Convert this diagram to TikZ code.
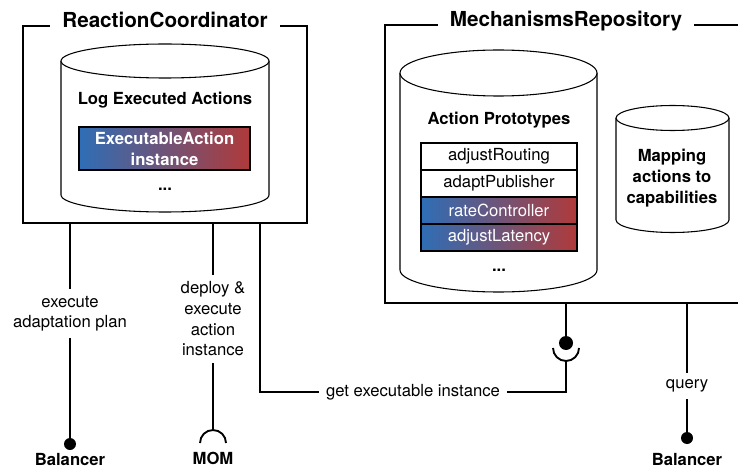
\documentclass[tikz,border=0pt]{standalone}
\usepackage{fontspec}
\setmainfont{TeX Gyre Heros}
\usetikzlibrary{positioning}
\newdimen\pxu \pxu=0.75pt
\definecolor{actblue}{RGB}{46,110,182}
\definecolor{actred}{RGB}{176,58,58}

\begin{document}
\begin{tikzpicture}[
  x=0.75pt, y=-0.75pt,
  font=\fontsize{12.5}{15.5}\selectfont,
  comp/.style={draw, line width=1.4pt, inner sep=0pt},
  comptitle/.style={anchor=base, fill=white, inner xsep=9pt, inner ysep=2pt, font=\fontsize{15.5}{18}\selectfont\bfseries},
  cyl/.style={line width=0.8pt, fill=white},
  store/.style={font=\fontsize{12.5}{15.7}\selectfont\bfseries, align=center},
  proto/.style={draw, line width=0.8pt, minimum width=156\pxu, minimum height=27\pxu, inner sep=0pt},
  hot/.style={left color=actblue, right color=actred, text=white},
  wire/.style={line width=1.4pt},
  lbl/.style={fill=white, align=center, inner sep=5pt},
  ball/.style={circle, fill=black, inner sep=0pt, minimum size=12\pxu},
  ext/.style={anchor=base, inner sep=0pt, font=\fontsize{12.5}{15.5}\selectfont\bfseries}
]
  \useasboundingbox (0,0) rectangle (738,470);

  % Components
  \node[comp, minimum width=284\pxu, minimum height=197\pxu] (coord) at (165,124.5) {};
  \node[comp, minimum width=362\pxu, minimum height=278\pxu] (repo) at (566,164) {};
  \node[comptitle] (coordtitle) at ([yshift=-1.5pt]coord.north) {ReactionCoordinator};
  \node[comptitle] (repotitle) at ([yshift=-1.5pt]repo.north) {MechanismsRepository};

  % Log of executed actions
  \draw[cyl] (61,61) -- (61,195) arc[start angle=180, end angle=0, x radius=104, y radius=17] -- (269,61);
  \draw[cyl] (165,61) ellipse [x radius=104, y radius=17];
  \node[store] (logtitle) at (165,100) {Log Executed Actions};
  \node[draw, line width=0.8pt, hot, store, text=white, minimum width=171\pxu, minimum height=43\pxu, inner sep=0pt] (execinst) at (164.5,148.5) {ExecutableAction\\instance};
  \node[store] (logdots) at (165,189) {...};

  % Action prototypes
  \draw[cyl] (400,73) -- (400,270) arc[start angle=180, end angle=0, x radius=98.5, y radius=22] -- (597,73);
  \draw[cyl] (498.5,73) ellipse [x radius=98.5, y radius=23];
  \node[store] (protostitle) at (499,120) {Action Prototypes};
  \node[proto] (routing) at (499,156.5) {adjustRouting};
  \node[proto] (publisher) at (499,183.5) {adaptPublisher};
  \node[proto, hot] (rate) at (499,210.5) {rateController};
  \node[proto, hot] (latency) at (499,237.5) {adjustLatency};
  \node[store] (protodots) at (499,270) {...};

  % Mapping actions to capabilities
  \draw[cyl] (616,118) -- (616,220) arc[start angle=180, end angle=0, x radius=56.5, y radius=12.5] -- (729,118);
  \draw[cyl] (672.5,118) ellipse [x radius=56.5, y radius=12.5];
  \node[store] (mapping) at (672,178) {Mapping\\actions to\\capabilities};

  % External ends
  \node[ball] (bal1) at (70,444) {};
  \node[ext] (bal1txt) at (70,465) {Balancer};
  \node[ball] (bal2) at (687,438) {};
  \node[ext] (bal2txt) at (687,465) {Balancer};
  \coordinate (mom) at (213,430);
  \draw[wire] (200,443) arc[start angle=180, end angle=360, radius=13];
  \node[ext] (momtxt) at (213,464) {MOM};
  \node[ball, minimum size=14\pxu] (use) at (566,343) {};
  \coordinate (cup) at (566,361);
  \draw[wire] (553,348) arc[start angle=180, end angle=0, radius=13];
  \coordinate (gx) at (260,392);

  % Connectors
  \draw[wire] (coord.south -| bal1) -- node[lbl, pos=0.42] {execute\\adaptation plan} (bal1);
  \draw[wire] (coord.south -| mom) -- node[lbl, pos=0.46] {deploy \&\\execute\\action\\instance} (mom);
  \draw[wire] (coord.south -| gx) -- (gx) -| node[lbl, pos=0.25] {get executable instance} (cup);
  \draw[wire] (repo.south -| use) -- (use);
  \draw[wire] (repo.south -| bal2) -- node[lbl, pos=0.64] {query} (bal2);
\end{tikzpicture}
\end{document}
